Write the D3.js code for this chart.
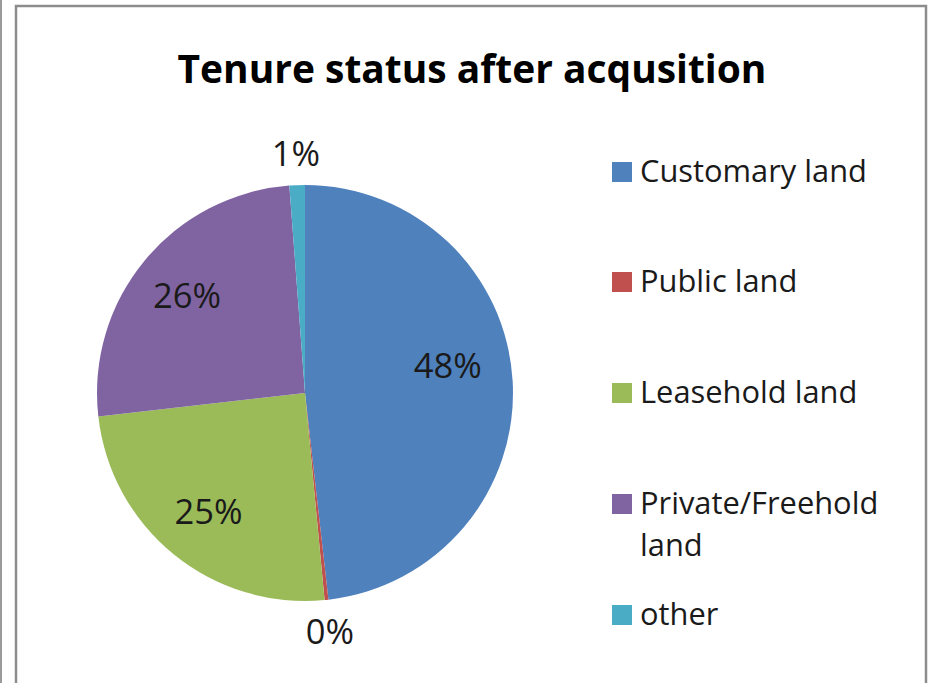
<!DOCTYPE html>
<html>
<head>
<meta charset="utf-8">
<script src="https://cdn.jsdelivr.net/npm/d3@7"></script>
<style>
  html, body { margin: 0; padding: 0; background: #fff; }
  svg { display: block; }
  text { font-family: "Open Sans", "Noto Sans", sans-serif; }
</style>
</head>
<body>
<svg id="chart" width="930" height="683"></svg>
<script>
const title = "Tenure status after acqusition";
const categories = ["Customary land", "Public land", "Leasehold land", "Private/Freehold land", "other"];
const values = [48.2, 0.3, 24.7, 25.6, 1.2];
const colors = ["#4F81BD", "#C0504D", "#9BBB59", "#8064A2", "#4BACC6"];
const legendLines = [["Customary land"], ["Public land"], ["Leasehold land"], ["Private/Freehold", "land"], ["other"]];

const svg = d3.select("#chart");

// outer frame lines
svg.append("rect").attr("x", 0).attr("y", -5).attr("width", 2).attr("height", 700).attr("fill", "#9a9a9a");
svg.append("path")
  .attr("d", "M16,690 L16,6 L926,6 L926,690")
  .attr("fill", "none").attr("stroke", "#8c8c8c").attr("stroke-width", 2.5);

function fit(sel, targetW) {
  const n = sel.node();
  const fs = parseFloat(sel.attr("font-size"));
  const w = n.getComputedTextLength();
  sel.attr("font-size", fs * targetW / w);
  return sel;
}

// title
const t = svg.append("text")
  .attr("x", 472).attr("y", 83)
  .attr("text-anchor", "middle")
  .attr("font-weight", "bold")
  .attr("font-size", 36)
  .attr("fill", "#000")
  .text(title);
fit(t, 589);

// pie
const cx = 305, cy = 393, r = 208;
const pie = d3.pie().sort(null).value(d => d.v);
const data = categories.map((c, i) => ({ c, v: values[i], col: colors[i] }));
const arcs = pie(data);
const arc = d3.arc().innerRadius(0).outerRadius(r);
const g = svg.append("g").attr("transform", `translate(${cx},${cy})`);
g.selectAll("path.slice").data(arcs).enter().append("path")
  .attr("class", "slice")
  .attr("d", arc)
  .attr("fill", d => d.data.col);

// labels
const inArc = d3.arc().innerRadius(153).outerRadius(153);
const outArc = d3.arc().innerRadius(240).outerRadius(240);
const fmt = v => Math.round(v) + "%";
g.selectAll("text.lbl").data(arcs).enter().append("text")
  .attr("class", "lbl")
  .attr("transform", d => {
    const p = (d.data.v < 5 ? outArc : inArc).centroid(d);
    if (d.data.v > 40) { p[0] -= 10; p[1] -= 19; }
    return `translate(${p[0]},${p[1]})`;
  })
  .attr("text-anchor", "middle")
  .attr("dy", "0.36em")
  .attr("font-size", 29)
  .attr("fill", "#1a1a1a")
  .text(d => fmt(d.data.v));

// legend
const legY = [172, 282, 393, 504, 615];
const leg = svg.append("g");
legendLines.forEach((lines, i) => {
  leg.append("rect")
    .attr("x", 612).attr("y", legY[i] - 10)
    .attr("width", 20).attr("height", 20)
    .attr("fill", colors[i]);
  lines.forEach((ln, j) => {
    leg.append("text")
      .attr("x", 640).attr("y", legY[i] + 10 + j * 42)
      .attr("font-size", 29)
      .attr("fill", "#1a1a1a")
      .text(ln);
  });
});
const lt = leg.selectAll("text");
const w0 = lt.filter(function(){ return this.textContent === "Customary land"; }).node().getComputedTextLength();
const lfs = 29 * 227 / w0;
lt.attr("font-size", lfs);
g.selectAll("text.lbl").attr("font-size", lfs * 1.12);
</script>
</body>
</html>
